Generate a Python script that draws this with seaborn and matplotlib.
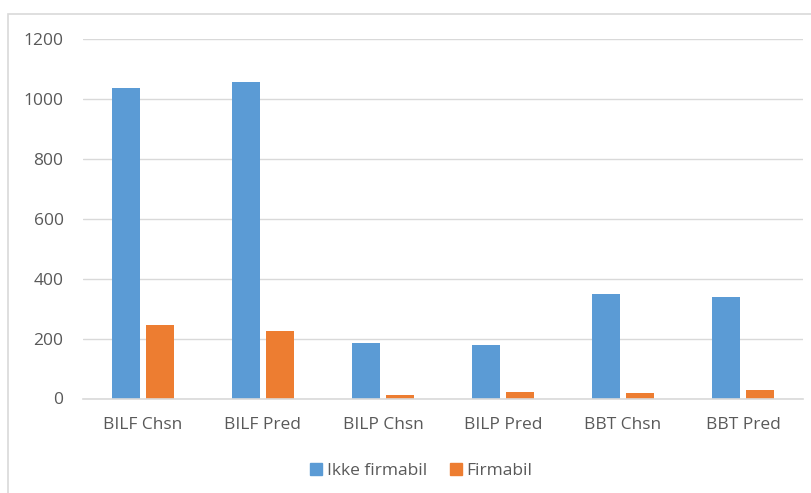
import matplotlib
matplotlib.use("Agg")
import matplotlib.pyplot as plt
from matplotlib.patches import Rectangle
from matplotlib.lines import Line2D
import seaborn as sns
import pandas as pd

categories = ["BILF Chsn", "BILF Pred", "BILP Chsn", "BILP Pred", "BBT Chsn", "BBT Pred"]
series_names = ["Ikke firmabil", "Firmabil"]
ikke_firmabil = [1036, 1056, 185, 177, 349, 339]
firmabil = [247, 226, 11, 21, 18, 30]
y_ticks = [0, 200, 400, 600, 800, 1000, 1200]
colors = ["#5b9bd5", "#ed7d31"]
text_color = "#595959"

df = pd.DataFrame({
    "Category": categories * 2,
    "Series": [series_names[0]] * len(categories) + [series_names[1]] * len(categories),
    "Value": ikke_firmabil + firmabil,
})

sns.set_theme(style="white")
plt.rcParams["font.family"] = ["Open Sans", "DejaVu Sans"]

fig = plt.figure(figsize=(8.11, 4.93), dpi=100)
ax = fig.add_axes([83 / 811, 94.5 / 493, 720 / 811, 359.5 / 493])

sns.barplot(data=df, x="Category", y="Value", hue="Series", palette=colors,
            width=0.57, gap=0.2, linewidth=0, saturation=1, ax=ax, legend=False)

ax.set_ylim(0, 1200)
ax.set_xlim(-0.5, len(categories) - 0.5)
ax.set_yticks(y_ticks)
ax.set_yticklabels([str(t) for t in y_ticks])
ax.set_xlabel("")
ax.set_ylabel("")
ax.yaxis.grid(True, color="#d9d9d9", linewidth=1.0)
ax.set_axisbelow(True)
for side in ["top", "right", "left"]:
    ax.spines[side].set_visible(False)
ax.spines["bottom"].set_color("#d9d9d9")
ax.spines["bottom"].set_linewidth(1.2)
ax.tick_params(axis="both", length=0, labelsize=12.5, labelcolor=text_color)
ax.tick_params(axis="y", pad=14)
ax.tick_params(axis="x", pad=13)

handles = [Line2D([], [], marker="s", linestyle="", markersize=8.5,
                  markerfacecolor=c, markeredgecolor=c) for c in colors]
fig.legend(handles, series_names, loc="center", bbox_to_anchor=(0.518, 0.045),
           ncol=2, frameon=False, fontsize=12.5, labelcolor=text_color,
           handletextpad=0.1, columnspacing=1.2, handlelength=1.0)

# chart border
fig.patches.append(Rectangle((8 / 811, -0.05), 1.0, (493 - 14) / 493 + 0.05,
                             transform=fig.transFigure, fill=False,
                             edgecolor="#d9d9d9", linewidth=1.2))

fig.savefig("out.png", dpi=100)
